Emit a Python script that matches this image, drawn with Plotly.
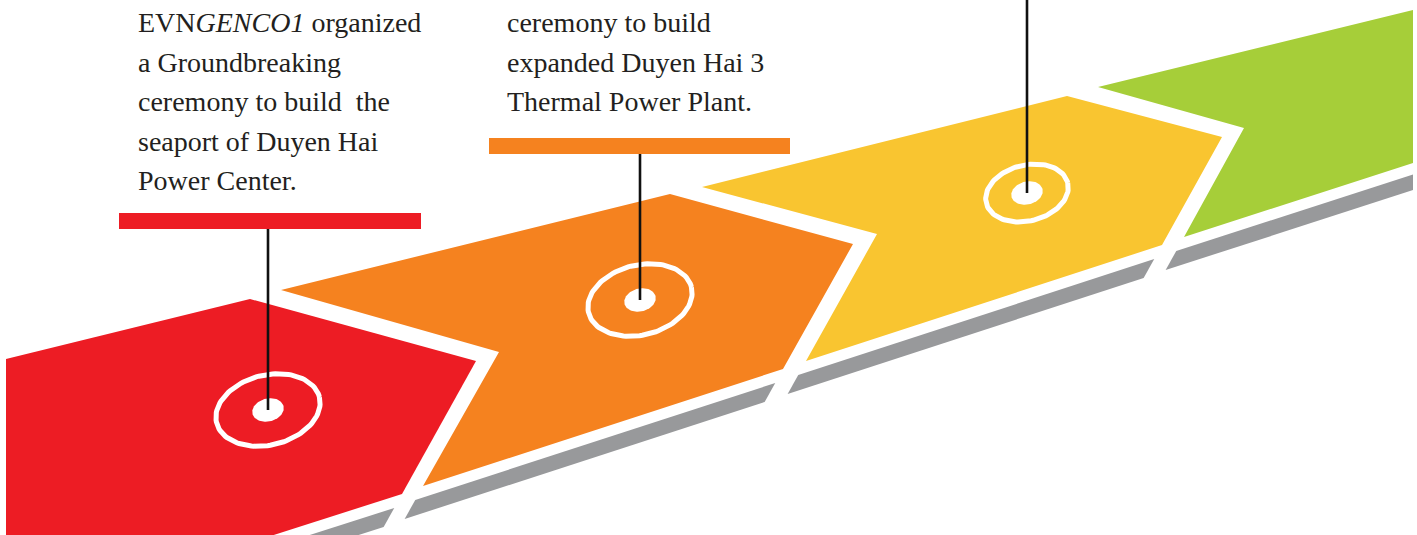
import numpy as np
import plotly.graph_objects as go

W, H = 1417, 535

# ---- timeline steps (pixel coordinates, y grows downward) ----
RED_X = [6, 250, 476, 402, 158, 6]
RED_Y = [359, 299, 361, 494, 572, 572]
ORANGE_X = [281, 670, 853, 783, 423, 499]
ORANGE_Y = [290, 194, 244, 369, 486, 352]
YELLOW_X = [702, 1067, 1222, 1162, 806, 877]
YELLOW_Y = [187, 96, 137, 245, 361, 234]
GREEN_X = [1098, 1413, 1413, 1184, 1244]
GREEN_Y = [87, 10, 163, 237, 128]

# bottom edges of each step (left point, right point) used for the grey side
EDGE_LEFT = [(158, 572), (423, 486), (806, 361), (1184, 237)]
EDGE_RIGHT = [(402, 494), (783, 369), (1162, 245), (1413, 163)]
EDGE_CLIP = [None, None, None, 1413]

# ---- markers ----
RING_X = [268, 640, 1027]
RING_Y = [410, 300, 193]
RING_A = [53, 53, 42]
RING_B = [35, 35, 28]
PIN_TOP = [228, 153, 0]

# ---- label bars ----
BAR_X0 = [119, 489]
BAR_X1 = [421, 790]
BAR_Y0 = [213, 138]
BAR_Y1 = [229, 154]
BAR_COLORS = ["#ED1C24", "#F5821F"]

# ---- texts ----
TEXT_LEFT_X = 137
TEXT_LEFT = [
    "EVN<i>GENCO1</i> organized",
    "a Groundbreaking",
    "ceremony to build\u00a0 the",
    "seaport of Duyen Hai",
    "Power Center.",
]
TEXT_MID_X = 506
TEXT_MID = [
    "ceremony to build",
    "expanded Duyen Hai 3",
    "Thermal Power Plant.",
]
BASELINES = [32, 72, 111, 151, 190]

STEP_COLORS = ["#ED1C24", "#F5821F", "#F9C530", "#A6CE39"]
GREY = "#98999B"
TEXT_COLOR = "#231F20"
FONT = "Liberation Serif"
FONT_SIZE = 28

SHADOW_TOP, SHADOW_BOT, SIDE_DX = 14, 33, -0.556

fig = go.Figure()


def poly(xs, ys, color):
    fig.add_trace(go.Scatter(
        x=list(xs) + [xs[0]], y=list(ys) + [ys[0]], mode="lines",
        fill="toself", fillcolor=color, line=dict(width=0, color=color),
        hoverinfo="skip", showlegend=False))


def shadow(b1, b2, clip):
    def shift(p, d):
        return (p[0] + SIDE_DX * d, p[1] + d)
    t1, t2 = shift(b1, SHADOW_TOP), shift(b2, SHADOW_TOP)
    u1, u2 = shift(b1, SHADOW_BOT), shift(b2, SHADOW_BOT)
    if clip is not None:
        def at(p, q, x):
            return (x, p[1] + (q[1] - p[1]) * (x - p[0]) / (q[0] - p[0]))
        t2 = at(t1, t2, clip)
        u2 = at(u1, u2, clip)
    pts = [t1, t2, u2, u1]
    poly([p[0] for p in pts], [p[1] for p in pts], GREY)


# steps
for xs, ys, c in zip([RED_X, ORANGE_X, YELLOW_X, GREEN_X],
                     [RED_Y, ORANGE_Y, YELLOW_Y, GREEN_Y], STEP_COLORS):
    poly(xs, ys, c)
for b1, b2, cl in zip(EDGE_LEFT, EDGE_RIGHT, EDGE_CLIP):
    shadow(b1, b2, cl)

# rings + dots
t = np.linspace(0, 2 * np.pi, 120)
th = np.deg2rad(-14)
for cx, cy, a, b in zip(RING_X, RING_Y, RING_A, RING_B):
    ex = a * np.cos(t)
    ey = b * np.sin(t)
    fig.add_trace(go.Scatter(
        x=cx + ex * np.cos(th) - ey * np.sin(th),
        y=cy + ex * np.sin(th) + ey * np.cos(th),
        mode="lines", line=dict(color="white", width=5),
        hoverinfo="skip", showlegend=False))
    dx = 16 * np.cos(t)
    dy = 11.5 * np.sin(t)
    poly(list(cx + dx * np.cos(th) - dy * np.sin(th)),
         list(cy + dx * np.sin(th) + dy * np.cos(th)), "white")

# pins
for cx, cy, top in zip(RING_X, RING_Y, PIN_TOP):
    fig.add_trace(go.Scatter(
        x=[cx, cx], y=[top, cy], mode="lines",
        line=dict(color="#111111", width=2.6),
        hoverinfo="skip", showlegend=False))

# bars
for x0, x1, y0, y1, c in zip(BAR_X0, BAR_X1, BAR_Y0, BAR_Y1, BAR_COLORS):
    poly([x0, x1, x1, x0], [y0, y0, y1, y1], c)

# text
for lines, x0 in ((TEXT_LEFT, TEXT_LEFT_X), (TEXT_MID, TEXT_MID_X)):
    for line, base in zip(lines, BASELINES):
        fig.add_annotation(
            x=x0, y=base - 0.34 * FONT_SIZE, xref="x", yref="y",
            text=line, showarrow=False, xanchor="left", yanchor="middle",
            font=dict(family=FONT, size=FONT_SIZE, color=TEXT_COLOR),
            borderpad=0)

fig.update_layout(
    width=W, height=H, margin=dict(l=0, r=0, t=0, b=0),
    paper_bgcolor="white", plot_bgcolor="white", showlegend=False,
    xaxis=dict(range=[0, W], visible=False, fixedrange=True),
    yaxis=dict(range=[H, 0], visible=False, fixedrange=True),
)

fig.write_html(
    "out.html",
    config={"displayModeBar": False, "staticPlot": True},
    post_script="document.body.style.margin='0';document.body.style.overflow='hidden';",
)
